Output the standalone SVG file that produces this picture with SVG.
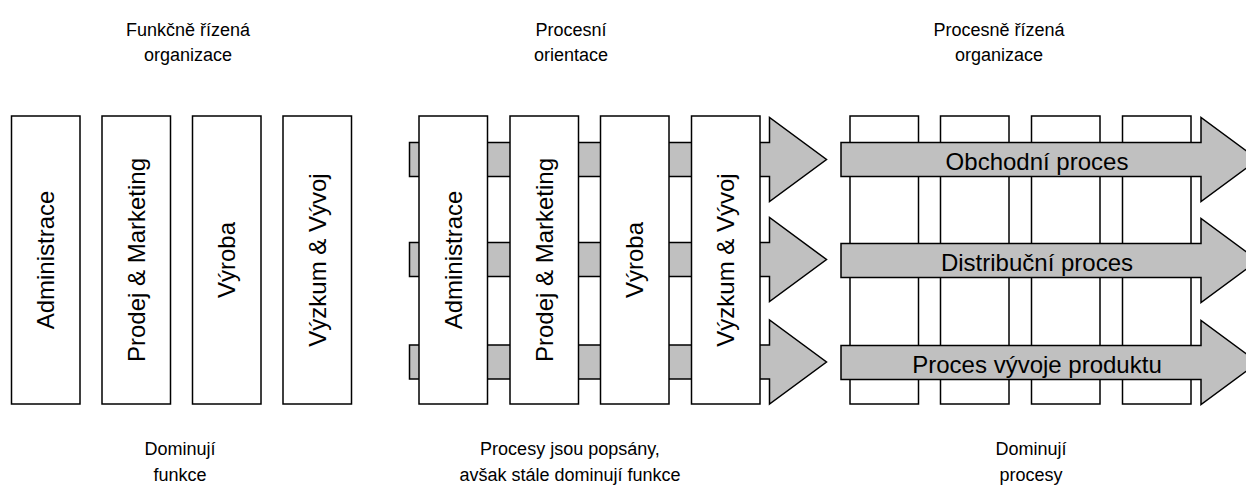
<svg xmlns="http://www.w3.org/2000/svg" width="1246" height="488" viewBox="0 0 1246 488">
  <style>
    .box { fill: #ffffff; stroke: #000000; stroke-width: 1.5; }
    .arrow { fill: #c0c0c0; stroke: #000000; stroke-width: 1.5; stroke-linejoin: miter; }
    text { font-family: "Liberation Sans", Arial, sans-serif; font-size: 24px; fill: #000000; }
    .c { text-anchor: middle; }
    .cap { font-size: 18px; }
  </style>
  <defs>
    <!-- block arrow with shaft from x=0, shaft half-height 17, head half-height 42 -->
    <polygon id="processArrow" points="0,-17 360,-17 360,-42 417,0 360,42 360,17 0,17"/>
  </defs>

  <rect width="1246" height="488" fill="#ffffff"/>

  <!-- Column headings -->
  <g id="titles">
    <text class="c cap" x="188" y="36">Funkčně řízená</text>
    <text class="c cap" x="188" y="61">organizace</text>
    <text class="c cap" x="571" y="36">Procesní</text>
    <text class="c cap" x="571" y="61">orientace</text>
    <text class="c cap" x="999" y="36">Procesně řízená</text>
    <text class="c cap" x="999" y="61">organizace</text>
  </g>

  <!-- Functional organisation: four departments -->
  <g id="functional">
    <g id="f-admin">
      <rect class="box" x="11.5" y="116" width="68.5" height="288"/>
      <text class="c" transform="translate(45.75,260) rotate(-90)" dy="8.5">Administrace</text>
    </g>
    <g id="f-sales">
      <rect class="box" x="102" y="116" width="68.5" height="288"/>
      <text class="c" transform="translate(136.25,260) rotate(-90)" dy="8.5">Prodej &amp; Marketing</text>
    </g>
    <g id="f-production">
      <rect class="box" x="192.5" y="116" width="68.5" height="288"/>
      <text class="c" transform="translate(226.75,260) rotate(-90)" dy="8.5">Výroba</text>
    </g>
    <g id="f-rnd">
      <rect class="box" x="283" y="116" width="68.5" height="288"/>
      <text class="c" transform="translate(317.25,260) rotate(-90)" dy="8.5">Výzkum &amp; Vývoj</text>
    </g>
  </g>

  <!-- Process orientation: processes run behind the departments -->
  <g id="connectors">
    <use href="#processArrow" class="arrow" transform="translate(409.5,159.5)"/>
    <use href="#processArrow" class="arrow" transform="translate(409.5,259.5)"/>
    <use href="#processArrow" class="arrow" transform="translate(409.5,362)"/>
  </g>
  <g id="oriented">
    <g id="o-admin">
      <rect class="box" x="419" y="116" width="68.5" height="288"/>
      <text class="c" transform="translate(453.25,260) rotate(-90)" dy="8.5">Administrace</text>
    </g>
    <g id="o-sales">
      <rect class="box" x="510" y="116" width="68.5" height="288"/>
      <text class="c" transform="translate(544.25,260) rotate(-90)" dy="8.5">Prodej &amp; Marketing</text>
    </g>
    <g id="o-production">
      <rect class="box" x="600.5" y="116" width="68.5" height="288"/>
      <text class="c" transform="translate(634.75,260) rotate(-90)" dy="8.5">Výroba</text>
    </g>
    <g id="o-rnd">
      <rect class="box" x="691.5" y="116" width="68.5" height="288"/>
      <text class="c" transform="translate(725.75,260) rotate(-90)" dy="8.5">Výzkum &amp; Vývoj</text>
    </g>
  </g>

  <!-- Process-driven organisation: processes run across the departments -->
  <g id="departments">
    <rect class="box" x="850" y="116" width="68.5" height="288"/>
    <rect class="box" x="940.5" y="116" width="68.5" height="288"/>
    <rect class="box" x="1031.5" y="116" width="68.5" height="288"/>
    <rect class="box" x="1122.5" y="116" width="68.5" height="288"/>
  </g>
  <g id="p-sales">
    <use href="#processArrow" class="arrow" transform="translate(841,159.5)"/>
    <text class="c" x="1037" y="170">Obchodní proces</text>
  </g>
  <g id="p-distribution">
    <use href="#processArrow" class="arrow" transform="translate(841,260.5)"/>
    <text class="c" x="1037" y="271">Distribuční proces</text>
  </g>
  <g id="p-development">
    <use href="#processArrow" class="arrow" transform="translate(841,362.5)"/>
    <text class="c" x="1037" y="373">Proces vývoje produktu</text>
  </g>

  <!-- Captions -->
  <g id="captions">
    <text class="c cap" x="180" y="455">Dominují</text>
    <text class="c cap" x="180" y="481">funkce</text>
    <text class="c cap" x="570" y="455">Procesy jsou popsány,</text>
    <text class="c cap" x="570" y="481">avšak stále dominují funkce</text>
    <text class="c cap" x="1031" y="455">Dominují</text>
    <text class="c cap" x="1031" y="481">procesy</text>
  </g>
</svg>
